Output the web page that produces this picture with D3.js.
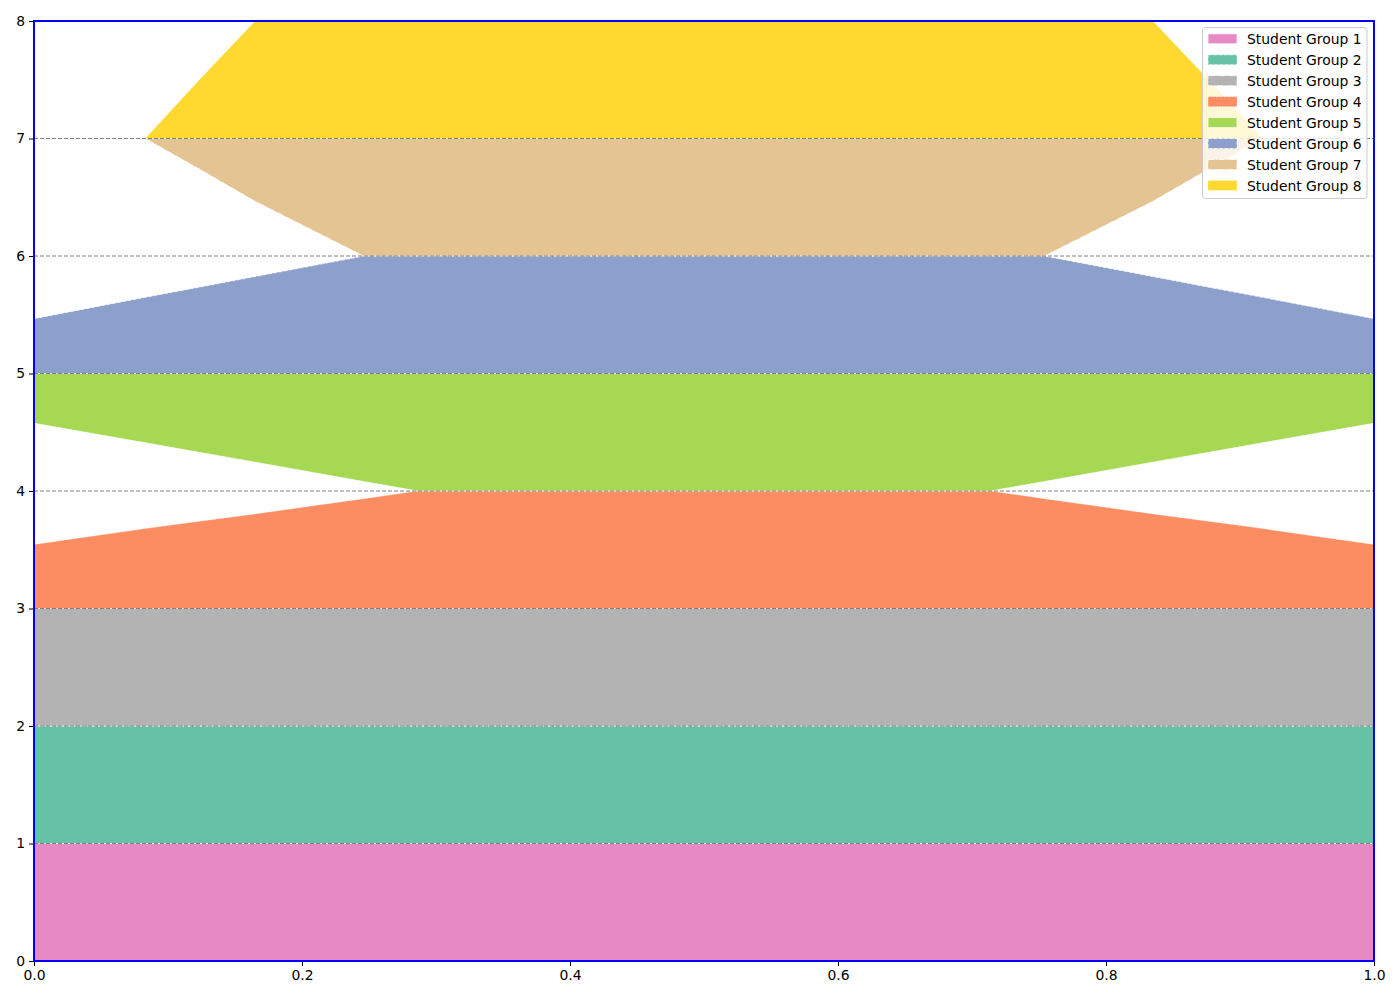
<!DOCTYPE html>
<html>
<head>
<meta charset="utf-8">
<script src="https://cdn.jsdelivr.net/npm/d3@7"></script>
<style>
  html, body { margin: 0; padding: 0; background: #fff; }
  svg { display: block; font-family: "DejaVu Sans", sans-serif; }
</style>
</head>
<body>
<svg id="chart" width="1400" height="1000"></svg>
<script>
// ---- data ----
const groups = ["Student Group 1","Student Group 2","Student Group 3","Student Group 4",
                "Student Group 5","Student Group 6","Student Group 7","Student Group 8"];
const colors = ["#e78ac3","#66c2a5","#b3b3b3","#fc8d62","#a6d854","#8da0cb","#e5c494","#ffd92f"];
const dashes = ["solid","dashed","dashdot","dotted","solid","dashed","dashdot","dotted"];

const xs = [0, 0.083, 0.125, 0.165, 0.246, 0.286, 0.5, 0.714, 0.754, 0.835, 0.875, 0.917, 1];

const lower1 = [0,0,0,0,0,0,0,0,0,0,0,0,0];
const upper1 = [1,1,1,1,1,1,1,1,1,1,1,1,1];
const lower2 = [1,1,1,1,1,1,1,1,1,1,1,1,1];
const upper2 = [2,2,2,2,2,2,2,2,2,2,2,2,2];
const lower3 = [2,2,2,2,2,2,2,2,2,2,2,2,2];
const upper3 = [3,3,3,3,3,3,3,3,3,3,3,3,3];
const lower4 = [3,3,3,3,3,3,3,3,3,3,3,3,3];
const upper4 = [3.545,3.68,3.745,3.805,3.935,4,4,4,3.935,3.805,3.745,3.68,3.545];
const lower5 = [4.576,4.41,4.325,4.245,4.08,4,4,4,4.08,4.245,4.325,4.41,4.576];
const upper5 = [5,5,5,5,5,5,5,5,5,5,5,5,5];
const lower6 = [5,5,5,5,5,5,5,5,5,5,5,5,5];
const upper6 = [5.467,5.648,5.738,5.825,6,6,6,6,6,5.825,5.738,5.648,5.467];
const lower7 = [7,7,6.73,6.465,6,6,6,6,6,6.465,6.73,7,7];
const upper7 = [7,7,7,7,7,7,7,7,7,7,7,7,7];
const lower8 = [7,7,7,7,7,7,7,7,7,7,7,7,7];
const upper8 = [7,7,7.52,8,8,8,8,8,8,8,7.52,7,7];

const lowers = [lower1,lower2,lower3,lower4,lower5,lower6,lower7,lower8];
const uppers = [upper1,upper2,upper3,upper4,upper5,upper6,upper7,upper8];

const xTicks = [0, 0.2, 0.4, 0.6, 0.8, 1.0];
const yTicks = [0,1,2,3,4,5,6,7,8];

// ---- layout ----
const svg = d3.select("#chart");
const L = 34, T = 21, W = 1340, H = 940;
const x = d3.scaleLinear().domain([0,1]).range([L, L+W]);
const y = d3.scaleLinear().domain([0,8]).range([T+H, T]);

const dashMap = { solid: null, dashed: "3.7,1.6", dashdot: "6.4,1.6,1,1.6", dotted: "1,1.65" };

svg.append("defs").append("clipPath").attr("id","clip")
  .append("rect").attr("x",L).attr("y",T).attr("width",W).attr("height",H);

const plot = svg.append("g").attr("clip-path","url(#clip)");

const area = d3.area()
  .x(d => x(d.x)).y0(d => y(d.lo)).y1(d => y(d.hi))
  .curve(d3.curveLinear);

groups.forEach((g, i) => {
  const pts = xs.map((xv, j) => ({x: xv, lo: lowers[i][j], hi: uppers[i][j]}));
  plot.append("path")
    .attr("d", area(pts) + "Z")
    .attr("fill", colors[i])
    .attr("stroke", "#ffffff")
    .attr("stroke-opacity", 0.75)
    .attr("stroke-width", 1)
    .attr("stroke-dasharray", dashMap[dashes[i]]);
});

// grid lines
svg.append("g")
  .selectAll("line").data(yTicks.filter(v => v > 0 && v < 8)).join("line")
  .attr("x1", L).attr("x2", L+W)
  .attr("y1", d => y(d)).attr("y2", d => y(d))
  .attr("stroke", "#808080").attr("stroke-width", 1)
  .attr("stroke-dasharray", "4,2");

// axes
const xAxis = d3.axisBottom(x).tickValues(xTicks).tickFormat(d3.format(".1f")).tickSize(5).tickPadding(4);
const yAxis = d3.axisLeft(y).tickValues(yTicks).tickFormat(d3.format("d")).tickSize(5).tickPadding(4);

const gx = svg.append("g").attr("transform", `translate(0,${T+H})`).call(xAxis);
const gy = svg.append("g").attr("transform", `translate(${L},0)`).call(yAxis);
[gx, gy].forEach(g => {
  g.select(".domain").remove();
  g.selectAll("text").attr("font-size", 13.9).attr("font-family", "DejaVu Sans").attr("fill", "#000");
  g.selectAll("line").attr("stroke", "#000").attr("stroke-width", 1);
});

// spines
svg.append("rect").attr("x", L).attr("y", T).attr("width", W).attr("height", H)
  .attr("fill", "none").attr("stroke", "blue").attr("stroke-width", 2);

// legend
const lg = svg.append("g");
const lx = 1202.5, ly = 27.5, lw = 164.5, lh = 171;
lg.append("rect").attr("x", lx).attr("y", ly).attr("width", lw).attr("height", lh)
  .attr("rx", 3).attr("fill", "#fff").attr("fill-opacity", 0.8)
  .attr("stroke", "#cccccc").attr("stroke-width", 1);
groups.forEach((g, i) => {
  const cy = 39.3 + i * 20.95;
  lg.append("rect").attr("x", 1208).attr("y", cy - 5.5).attr("width", 29).attr("height", 10)
    .attr("fill", colors[i]).attr("stroke", "#ffffff").attr("stroke-opacity", 0.75)
    .attr("stroke-width", 1).attr("stroke-dasharray", dashMap[dashes[i]]);
  lg.append("text").attr("x", 1247).attr("y", cy).attr("dy", "0.35em")
    .attr("font-size", 13.9).attr("font-family", "DejaVu Sans").attr("fill", "#000")
    .text(g);
});
</script>
</body>
</html>
